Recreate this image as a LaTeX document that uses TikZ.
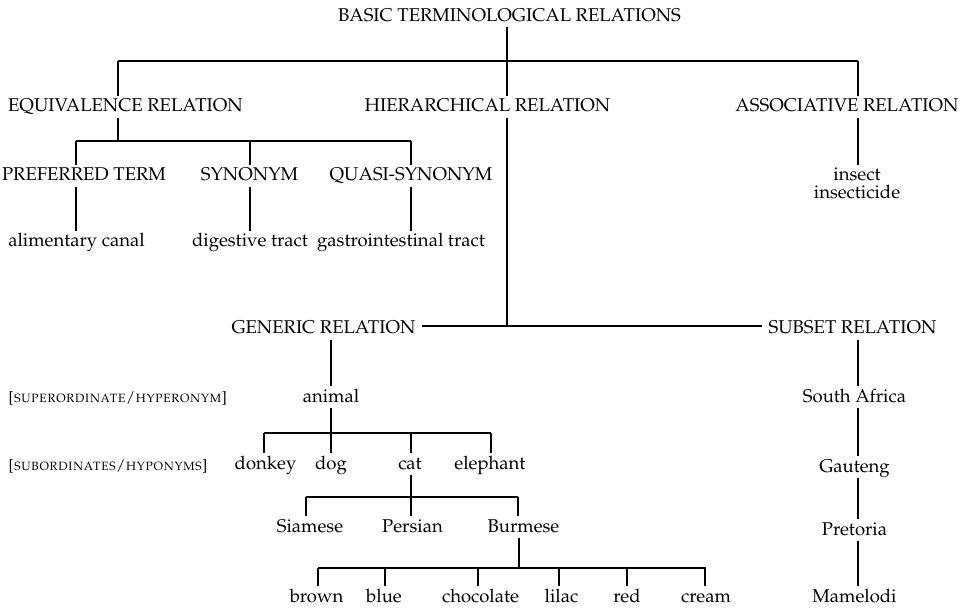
\documentclass[tikz,border=0pt]{standalone}
\usepackage[T1]{fontenc}
\usepackage{mathpazo}
\usepackage{tikz}

\begin{document}
\begin{tikzpicture}[x=1pt,y=-1pt,
  term/.style={anchor=base,inner sep=0pt,text height=13pt,text depth=4pt,
    font=\fontsize{18.5}{20}\selectfont},
  note/.style={anchor=base west,inner sep=0pt,font=\fontsize{15}{17}\selectfont},
  link/.style={\cLine,line width=1.6pt,shorten <=1.5pt,shorten >=3pt},
  bar/.style={\cLine,line width=1.6pt}]
\def\cLine{black}
\useasboundingbox (0,0) rectangle (966,609);
% top level
\node[term] (root) at (509.5,21.5) {BASIC TERMINOLOGICAL RELATIONS};
\node[term] (equ) at (125.5,112) {EQUIVALENCE RELATION};
\node[term] (hier) at (487.5,112) {HIERARCHICAL RELATION};
\node[term] (assoc) at (847,112) {ASSOCIATIVE RELATION};
\coordinate (topL) at (118,61);
\coordinate (topR) at (858,61);
\coordinate (stemH) at (507,61);
\draw[bar] (topL) -- (topR);
\draw[link] (root.south -| stemH) -- (hier.north -| stemH);
\draw[bar,shorten >=3pt] (topL) -- (topL |- equ.north);
\draw[bar,shorten >=3pt] (topR) -- (topR |- assoc.north);
% equivalence
\node[term] (pref) at (84,181) {PREFERRED TERM};
\node[term] (syn) at (249.5,181) {SYNONYM};
\node[term] (quasi) at (411,181) {QUASI-SYNONYM};
\node[term] (alim) at (76.5,247) {alimentary canal};
\node[term] (dig) at (250,247) {digestive tract};
\node[term] (gastro) at (401,247) {gastrointestinal tract};
\coordinate (eqL) at (76,141);
\coordinate (eqM) at (250,141);
\coordinate (eqR) at (411,141);
\draw[bar,shorten <=1.5pt] (equ.south -| topL) -- (eqL -| topL);
\draw[bar] (eqL) -- (eqR);
\foreach \c/\n in {eqL/pref,eqM/syn,eqR/quasi}
  \draw[bar,shorten >=3pt] (\c) -- (\c |- \n.north);
\foreach \c/\a/\b in {eqL/pref/alim,eqM/syn/dig,eqR/quasi/gastro}
  \draw[link] (\a.south -| \c) -- (\b.north -| \c);
% associative
\node[term] (insect) at (857,181) {insect};
\node[term] (insecticide) at (857,199) {insecticide};
\draw[link] (assoc.south -| topR) -- (insect.north -| topR);
% hierarchical
\node[term] (gen) at (323.5,334) {GENERIC RELATION};
\node[term] (sub) at (852.5,334) {SUBSET RELATION};
\coordinate (hierJ) at (507,326);
\draw[bar,shorten <=1.5pt] (hier.south -| stemH) -- (hierJ);
\draw[bar,shorten <=6pt,shorten >=6pt] (gen.east |- hierJ) -- (sub.west |- hierJ);
% generic relation
\node[note] (supLbl) at (8,402) {\textsc{[superordinate/hyperonym]}};
\node[note] (subLbl) at (8,470) {\textsc{[subordinates/hyponyms]}};
\node[term] (animal) at (331,402) {animal};
\node[term] (donkey) at (265.5,469) {donkey};
\node[term] (dog) at (331,469) {dog};
\node[term] (cat) at (410,469) {cat};
\node[term] (eleph) at (490,469) {elephant};
\node[term] (siam) at (310,532) {Siamese};
\node[term] (pers) at (412.5,532) {Persian};
\node[term] (burm) at (523.5,532) {Burmese};
\foreach \n/\x in {brown/316.5,blue/384,chocolate/480.5,lilac/561.5,red/627,cream/706}
  \node[term] (\n) at (\x,602) {\n};
\coordinate (genS) at (331,0);
\draw[link] (gen.south -| genS) -- (animal.north -| genS);
\coordinate (anL) at (264,433);
\coordinate (anR) at (491,433);
\draw[bar,shorten <=1.5pt] (animal.south) -- (animal.south |- anL);
\draw[bar] (anL) -- (anR);
\foreach \x/\n in {264/donkey,331/dog,411/cat,491/eleph}
  \draw[bar,shorten >=3pt] (\x,433) -- (\x,0 |- \n.north);
\coordinate (catL) at (306,497);
\coordinate (catR) at (518,497);
\draw[bar,shorten <=1.5pt] (cat.south -| 411,0) -- (411,497);
\draw[bar] (catL) -- (catR);
\foreach \x/\n in {306/siam,411/pers,518/burm}
  \draw[bar,shorten >=3pt] (\x,497) -- (\x,0 |- \n.north);
\coordinate (buL) at (318,568);
\coordinate (buR) at (706,568);
\draw[bar,shorten <=1.5pt] (burm.south -| 519,0) -- (519,568);
\draw[bar] (buL) -- (buR);
\foreach \x/\n in {318/brown,385/blue,478/chocolate,559/lilac,627/red,705/cream}
  \draw[bar,shorten >=3pt] (\x,568) -- (\x,0 |- \n.north);
% subset relation
\node[term] (sa) at (854.5,402) {South Africa};
\node[term] (gau) at (854.5,472) {Gauteng};
\node[term] (pre) at (854.5,535) {Pretoria};
\node[term] (mam) at (854.5,602) {Mamelodi};
\foreach \a/\b in {sub/sa,sa/gau,gau/pre,pre/mam}
  \draw[link] (\a.south -| topR) -- (\b.north -| topR);
\end{tikzpicture}
\end{document}
